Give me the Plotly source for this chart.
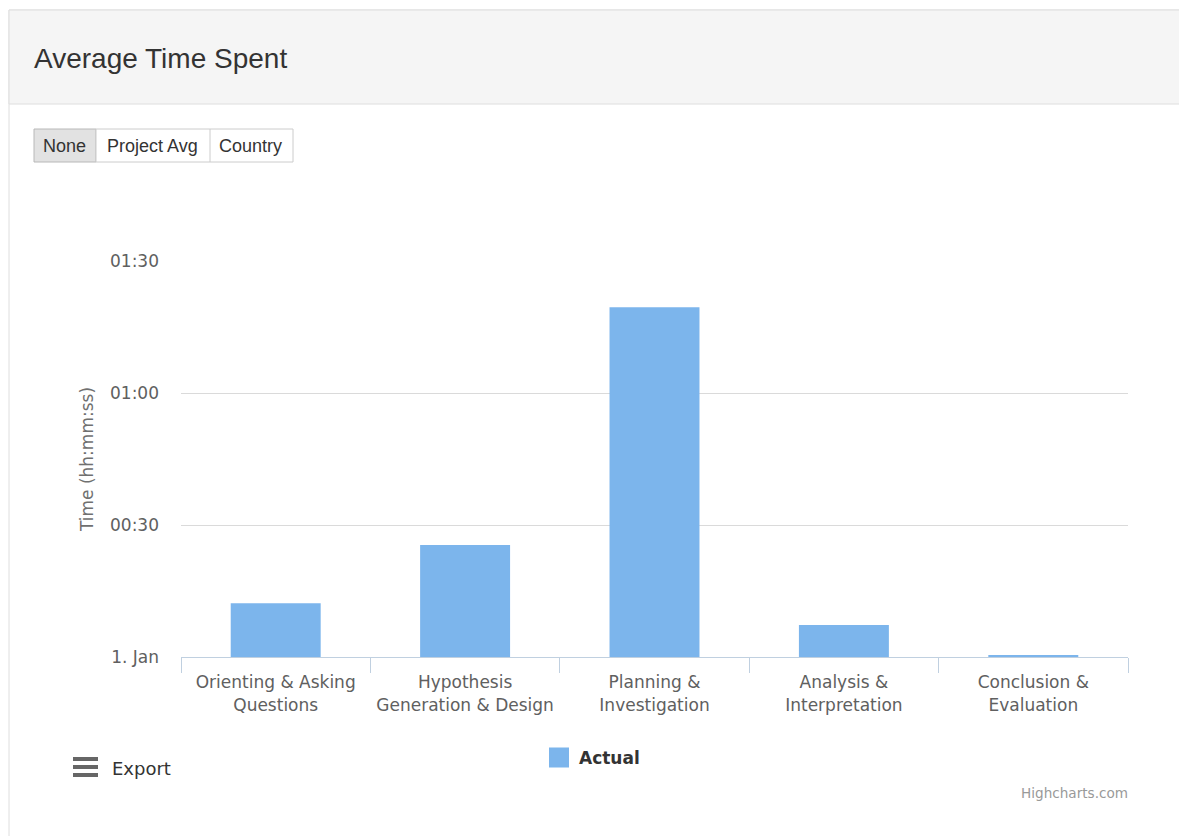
import plotly.graph_objects as go

# ---- data ----
categories = [
    "Orienting & Asking<br>Questions",
    "Hypothesis<br>Generation & Design",
    "Planning &<br>Investigation",
    "Analysis &<br>Interpretation",
    "Conclusion &<br>Evaluation",
]
actual_minutes = [12.2, 25.45, 79.5, 7.25, 0.4]
y_tick_values = [0, 30, 60, 90]
y_tick_labels = ["1. Jan", "00:30", "01:00", "01:30"]
series_name = "Actual"

# ---- layout geometry (pixels) ----
W, H = 1179, 836
PL, PR, PT, PB = 181, 1128, 261, 657


def px(x):
    return (x - PL) / (PR - PL)


def py(y):
    return (PB - y) / (PB - PT)


BAR_COLOR = "#7cb5ec"
LABEL_FONT = "DejaVu Sans"
UI_FONT = "Liberation Sans"

fig = go.Figure()
fig.add_trace(go.Bar(
    x=categories, y=actual_minutes, name=series_name,
    marker=dict(color=BAR_COLOR, line=dict(width=0)),
    showlegend=False, hoverinfo="skip",
))
# legend entry (larger square symbol like the reference)
fig.add_trace(go.Scatter(
    x=[None], y=[None], mode="markers", name=series_name,
    marker=dict(symbol="square", size=16, color=BAR_COLOR,
                line=dict(color=BAR_COLOR, width=4)),
    showlegend=True,
))

shapes = []
# panel border and header
shapes.append(dict(type="rect", xref="paper", yref="paper",
                   x0=px(9), x1=px(1200), y0=py(10), y1=py(860),
                   fillcolor="white", line=dict(color="#dedede", width=1), layer="below"))
shapes.append(dict(type="rect", xref="paper", yref="paper",
                   x0=px(9), x1=px(1200), y0=py(10), y1=py(104),
                   fillcolor="#f5f5f5", line=dict(color="#dedede", width=1), layer="below"))
# button group
shapes.append(dict(type="rect", xref="paper", yref="paper",
                   x0=px(34), x1=px(96), y0=py(129), y1=py(162),
                   fillcolor="#e2e2e2", line=dict(color="#b8b8b8", width=1), layer="below"))
shapes.append(dict(type="rect", xref="paper", yref="paper",
                   x0=px(96), x1=px(293), y0=py(129), y1=py(162),
                   fillcolor="white", line=dict(color="#cccccc", width=1), layer="below"))
shapes.append(dict(type="line", xref="paper", yref="paper",
                   x0=px(210), x1=px(210), y0=py(129), y1=py(162),
                   line=dict(color="#cccccc", width=1), layer="below"))
# export hamburger icon
for yy in (759, 767, 775):
    shapes.append(dict(type="line", xref="paper", yref="paper",
                       x0=px(73), x1=px(98), y0=py(yy), y1=py(yy),
                       line=dict(color="#666666", width=4)))

annotations = [
    dict(text="Average Time Spent", xref="paper", yref="paper",
         x=px(32), y=py(58), xanchor="left", yanchor="middle", showarrow=False,
         font=dict(family=UI_FONT, size=28, color="#333333")),
    dict(text="None", xref="paper", yref="paper",
         x=px(64), y=py(146), xanchor="center", yanchor="middle", showarrow=False,
         font=dict(family=UI_FONT, size=18, color="#333333")),
    dict(text="Project Avg", xref="paper", yref="paper",
         x=px(152), y=py(146), xanchor="center", yanchor="middle", showarrow=False,
         font=dict(family=UI_FONT, size=18, color="#333333")),
    dict(text="Country", xref="paper", yref="paper",
         x=px(250.5), y=py(146), xanchor="center", yanchor="middle", showarrow=False,
         font=dict(family=UI_FONT, size=18, color="#333333")),
    dict(text="Export", xref="paper", yref="paper",
         x=px(110), y=py(768), xanchor="left", yanchor="middle", showarrow=False,
         font=dict(family=LABEL_FONT, size=18, color="#333333")),
    dict(text="Highcharts.com", xref="paper", yref="paper",
         x=px(1130), y=py(793), xanchor="right", yanchor="middle", showarrow=False,
         font=dict(family=LABEL_FONT, size=13.6, color="#999999")),
]

fig.update_layout(
    width=W, height=H, autosize=False,
    margin=dict(l=PL, r=W - PR, t=PT, b=H - PB, pad=0, autoexpand=False),
    paper_bgcolor="white", plot_bgcolor="rgba(0,0,0,0)",
    bargap=0.525,
    shapes=shapes, annotations=annotations,
    showlegend=True,
    legend=dict(x=px(539), y=py(758), xanchor="left", yanchor="middle",
                bgcolor="rgba(0,0,0,0)", borderwidth=0,
                font=dict(family=LABEL_FONT, size=17, color="#333333", weight="bold")),
    xaxis=dict(
        type="category", range=[-0.5, 4.5], automargin=False,
        showline=True, linecolor="#c0d0e0", linewidth=1,
        ticks="outside", tickson="boundaries", ticklen=15, tickcolor="#c0d0e0", tickwidth=1,
        showgrid=False, zeroline=False,
        tickfont=dict(family=LABEL_FONT, size=17, color="#606060"),
        ticklabelstandoff=10, fixedrange=True,
    ),
    yaxis=dict(
        range=[0, 90], automargin=False,
        tickmode="array", tickvals=y_tick_values, ticktext=y_tick_labels,
        showgrid=True, gridcolor="#dadada", gridwidth=1,
        zeroline=False, showline=False, ticks="",
        tickfont=dict(family=LABEL_FONT, size=17, color="#606060"),
        ticklabelstandoff=21,
        title=dict(text="Time (hh:mm:ss)", standoff=12,
                   font=dict(family=LABEL_FONT, size=17, color="#707070")),
        fixedrange=True,
    ),
)

fig.write_html("out.html", config={"displayModeBar": False})
